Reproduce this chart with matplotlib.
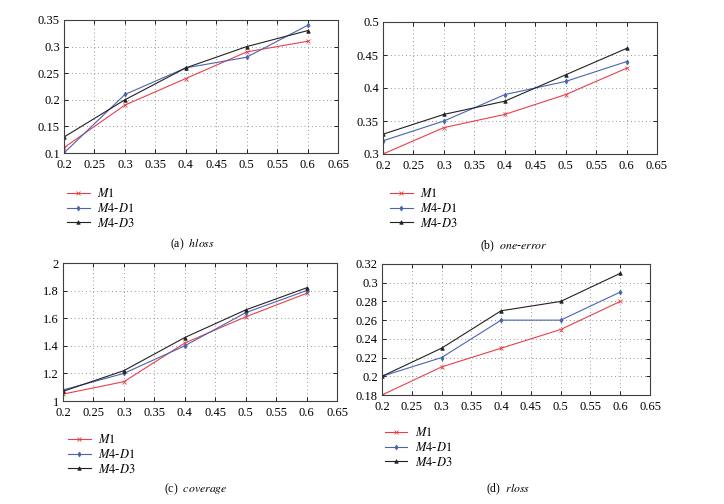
import matplotlib
matplotlib.use('Agg')
import matplotlib.pyplot as plt

plt.rcParams['font.family'] = ['Liberation Serif', 'DejaVu Serif']
plt.rcParams['mathtext.fontset'] = 'stix'

x = [0.2, 0.3, 0.4, 0.5, 0.6]
labels = [r'$M1$', r'$M4$-$D1$', r'$M4$-$D3$']

hloss_m1 = [0.11, 0.19, 0.24, 0.29, 0.31]
hloss_d1 = [0.10, 0.21, 0.26, 0.28, 0.34]
hloss_d3 = [0.13, 0.20, 0.26, 0.30, 0.33]

oneerr_m1 = [0.30, 0.34, 0.36, 0.39, 0.43]
oneerr_d1 = [0.32, 0.35, 0.39, 0.41, 0.44]
oneerr_d3 = [0.33, 0.36, 0.38, 0.42, 0.46]

cov_m1 = [1.05, 1.14, 1.42, 1.61, 1.78]
cov_d1 = [1.08, 1.20, 1.40, 1.64, 1.80]
cov_d3 = [1.07, 1.22, 1.46, 1.66, 1.82]

rloss_m1 = [0.18, 0.21, 0.23, 0.25, 0.28]
rloss_d1 = [0.20, 0.22, 0.26, 0.26, 0.29]
rloss_d3 = [0.20, 0.23, 0.27, 0.28, 0.31]

xticks = [0.2, 0.25, 0.3, 0.35, 0.4, 0.45, 0.5, 0.55, 0.6, 0.65]

colors = ['#e8404a', '#4a64b0', '#222222']
markers = ['x', 'd', '^']

W, H = 724, 504
fig = plt.figure(figsize=(W / 100, H / 100), dpi=100)


def box(l, t, r, b):
    return [l / W, 1 - b / H, (r - l) / W, (b - t) / H]


panels = [
    (box(64, 20, 338, 153), [hloss_m1, hloss_d1, hloss_d3], (0.1, 0.35),
     [0.1, 0.15, 0.2, 0.25, 0.3, 0.35], ['0.1', '0.15', '0.2', '0.25', '0.3', '0.35'],
     (67, 187), (192, 244), r'(a)  $\mathit{hloss}$'),
    (box(383, 22, 657, 154), [oneerr_m1, oneerr_d1, oneerr_d3], (0.3, 0.5),
     [0.3, 0.35, 0.4, 0.45, 0.5], ['0.3', '0.35', '0.4', '0.45', '0.5'],
     (390, 187), (514, 246), r'(b)  $\mathit{one}$-$\mathit{error}$'),
    (box(63, 263, 337, 401), [cov_m1, cov_d1, cov_d3], (1, 2),
     [1, 1.2, 1.4, 1.6, 1.8, 2], ['1', '1.2', '1.4', '1.6', '1.8', '2'],
     (68, 433), (196, 489), r'(c)  $\mathit{coverage}$'),
    (box(382, 264, 650, 395), [rloss_m1, rloss_d1, rloss_d3], (0.18, 0.32),
     [0.18, 0.2, 0.22, 0.24, 0.26, 0.28, 0.3, 0.32],
     ['0.18', '0.2', '0.22', '0.24', '0.26', '0.28', '0.3', '0.32'],
     (385, 426), (508, 489), r'(d)  $\mathit{rloss}$'),
]

for rect, series, ylim, yticks, yticklabels, leg_pos, cap_pos, caption in panels:
    ax = fig.add_axes(rect)
    for ys, c, m, lab in zip(series, colors, markers, labels):
        ax.plot(x, ys, color=c, marker=m, markersize=2.5, linewidth=0.8,
                markeredgewidth=0.6, label=lab)
    ax.set_xlim(0.2, 0.65)
    ax.set_ylim(*ylim)
    ax.set_xticks(xticks)
    ax.set_xticklabels(['0.2', '0.25', '0.3', '0.35', '0.4', '0.45', '0.5', '0.55', '0.6', '0.65'])
    ax.set_yticks(yticks)
    ax.set_yticklabels(yticklabels)
    ax.grid(True, linestyle=(0, (1, 3.5)), color='0.45', linewidth=0.6)
    ax.tick_params(direction='in', top=True, right=True, length=3, width=0.6,
                   labelsize=9, pad=3)
    ax.tick_params(axis='x', pad=4.5)
    for s in ax.spines.values():
        s.set_linewidth(0.8)
        s.set_color('0.25')
    ax.legend(loc='upper left', bbox_to_anchor=(leg_pos[0] / W, 1 - leg_pos[1] / H),
              bbox_transform=fig.transFigure, frameon=False, fontsize=9,
              handlelength=1.8, handletextpad=0.6, labelspacing=0.15,
              borderpad=0, borderaxespad=0)
    fig.text(cap_pos[0] / W, 1 - cap_pos[1] / H, caption, ha='center', va='center',
             fontsize=8.5)

fig.savefig('out.png', dpi=100)
